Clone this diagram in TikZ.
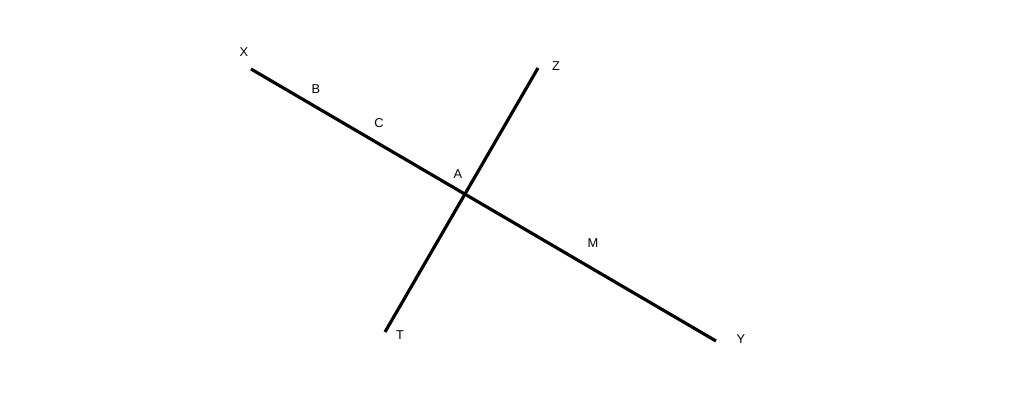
\documentclass[tikz,border=0pt]{standalone}
\usepackage{fontspec}
\setmainfont{Liberation Sans}
\begin{document}
\begin{tikzpicture}[x=0.02cm,y=-0.02cm]
	\tikzset{lbl/.style={inner sep=0pt, font=\fontsize{7.3}{9}\selectfont},
		ray/.style={line width=1.8pt}}
	\useasboundingbox (0,0) rectangle (1024,410);
		\coordinate (x) at (251,69);
		\coordinate (y) at (716,341);
		\coordinate (z) at (538,68);
		\coordinate (t) at (385,332);
		\node[lbl] (X) at (244,52) {X};
		\node[lbl] (B) at (316,89) {B};
		\node[lbl] (C) at (379,123) {C};
		\node[lbl] (A) at (458,174) {A};
		\node[lbl] (Z) at (556,66) {Z};
		\node[lbl] (M) at (593,243) {M};
		\node[lbl] (T) at (400,335) {T};
		\node[lbl] (Y) at (741,339) {Y};
		\draw[ray] (x) -- (y);
		\draw[ray] (z) -- (t);
	\end{tikzpicture}
\end{document}
